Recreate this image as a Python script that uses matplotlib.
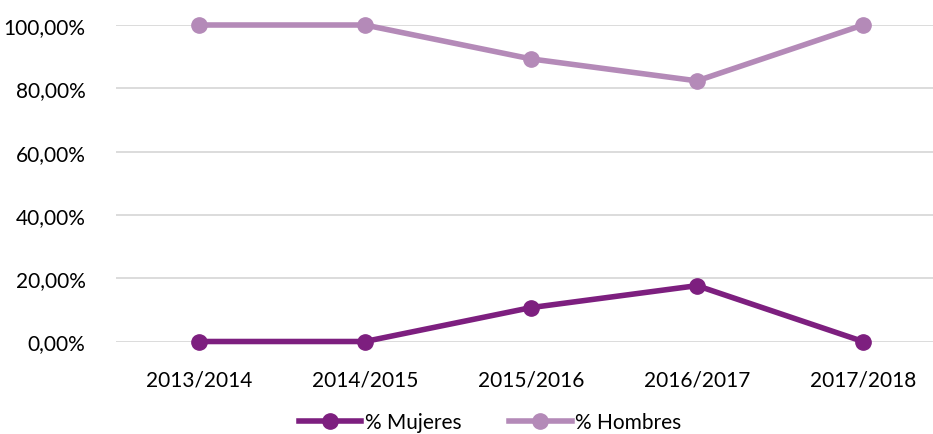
import matplotlib
matplotlib.use("Agg")
import matplotlib.pyplot as plt
from matplotlib.ticker import FuncFormatter

categories = ["2013/2014", "2014/2015", "2015/2016", "2016/2017", "2017/2018"]
mujeres = [0.0, 0.0, 10.71, 17.65, 0.0]
hombres = [100.0, 100.0, 89.29, 82.35, 100.0]
yticks = [0, 20, 40, 60, 80, 100]

plt.rcParams['font.family'] = ['Lato', 'DejaVu Sans']

W, H = 933, 435
fig = plt.figure(figsize=(W/100, H/100), dpi=100)
ax = fig.add_axes([116/W, 1 - 342.5/H, 830/W, (342.5-26)/H])

c_muj = "#7D1F7F"
c_hom = "#B48AB8"
x = list(range(len(categories)))
ax.plot(x, mujeres, color=c_muj, lw=4.0, marker='o', ms=11, clip_on=False, zorder=3, label="% Mujeres")
ax.plot(x, hombres, color=c_hom, lw=4.0, marker='o', ms=11, clip_on=False, zorder=3, label="% Hombres")

ax.set_xlim(-0.5, len(categories) - 0.5)
ax.set_ylim(0, 100)
ax.set_yticks(yticks)
ax.yaxis.set_major_formatter(FuncFormatter(lambda v, p: f"{v:.2f}".replace('.', ',') + "%"))
ax.set_xticks(x)
ax.set_xticklabels(categories)
ax.grid(axis='y', color='#D9D9D9', lw=1.3)
ax.set_axisbelow(True)
for s in ax.spines.values():
    s.set_visible(False)
ax.tick_params(axis='both', length=0, labelsize=15, colors='#000000')
ax.tick_params(axis='y', pad=22)
ax.tick_params(axis='x', pad=20)

leg = fig.legend(loc='center', bbox_to_anchor=(490/W, 1 - 423/H), ncol=2, frameon=False,
                 fontsize=15, handlelength=3.0, columnspacing=2.3, handletextpad=0.15,
                 borderpad=0.1)

fig.savefig("out.png", dpi=100)
